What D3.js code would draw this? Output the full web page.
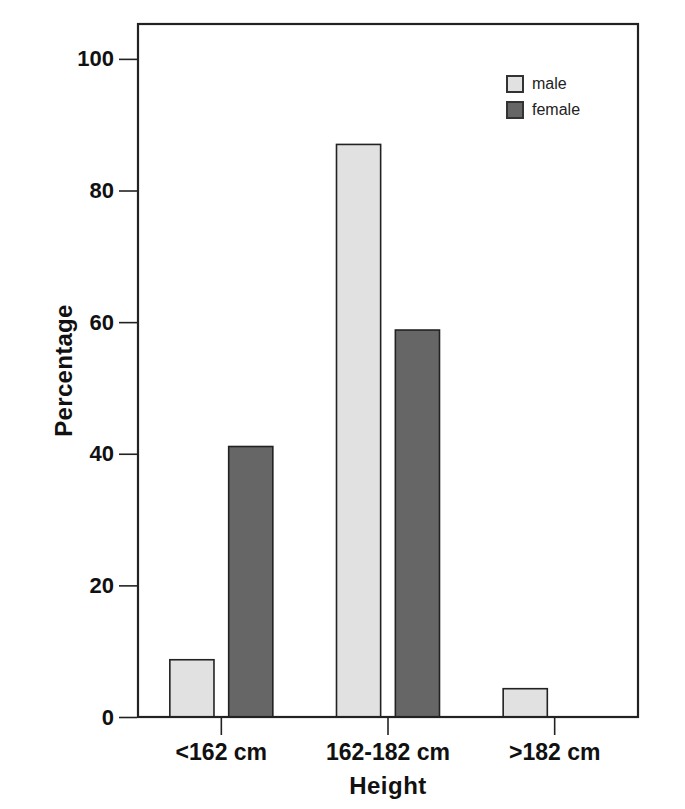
<!DOCTYPE html>
<html>
<head>
<meta charset="utf-8">
<script src="https://cdn.jsdelivr.net/npm/d3@7"></script>
<style>
  body { margin: 0; background: #fff; }
  svg { font-family: "Liberation Sans", Arial, sans-serif; }
</style>
</head>
<body>
<svg width="685" height="809"></svg>
<script>
const CATEGORIES = ["<162 cm", "162-182 cm", ">182 cm"];
const SERIES = ["male", "female"];
const MALE = [8.7, 87.0, 4.3];
const FEMALE = [41.1, 58.8, 0];
const Y_TICKS = [0, 20, 40, 60, 80, 100];

const COLORS = { male: "#e1e1e1", female: "#666666" };

const margin = { top: 24, left: 138, right: 47, bottom: 92 };
const width = 685 - margin.left - margin.right;
const height = 809 - margin.top - margin.bottom;

const data = CATEGORIES.map((c, i) => ({ category: c, male: MALE[i], female: FEMALE[i] }));

const svg = d3.select("svg");
const g = svg.append("g").attr("transform", `translate(${margin.left},${margin.top})`);

const xScale = d3.scaleBand()
    .domain(CATEGORIES)
    .range([0, width]);

const inner = d3.scaleBand()
    .domain(SERIES)
    .range([xScale.bandwidth() / 2 - 51.5, xScale.bandwidth() / 2 + 51.5])
    .paddingInner(0.25);

const yScale = d3.scaleLinear()
    .domain([0, 105.3])
    .range([height, 0]);

// bars
g.selectAll(".group")
    .data(data)
    .enter()
    .append("g")
    .attr("transform", d => `translate(${xScale(d.category)},0)`)
    .selectAll("rect")
    .data(d => SERIES.map(s => ({ key: s, value: d[s] })).filter(d => d.value > 0))
    .enter()
    .append("rect")
    .attr("x", d => inner(d.key))
    .attr("width", inner.bandwidth())
    .attr("y", d => yScale(d.value))
    .attr("height", d => height - yScale(d.value))
    .attr("fill", d => COLORS[d.key])
    .attr("stroke", "#222")
    .attr("stroke-width", 1.6);

// frame
g.append("rect")
    .attr("width", width)
    .attr("height", height)
    .attr("fill", "none")
    .attr("stroke", "#222")
    .attr("stroke-width", 2.2);

// y axis
const yAxis = g.append("g")
    .call(d3.axisLeft(yScale).tickValues(Y_TICKS).tickSize(19).tickPadding(5));
yAxis.select(".domain").remove();
yAxis.selectAll(".tick line").attr("stroke", "#222").attr("stroke-width", 1.6)
    .attr("x2", -19).attr("x1", -1);
yAxis.selectAll(".tick text")
    .attr("x", -24)
    .style("font-size", "22px")
    .style("font-weight", "bold")
    .attr("fill", "#111");

// x axis
const xAxis = g.append("g")
    .attr("transform", `translate(0,${height})`)
    .call(d3.axisBottom(xScale).tickSize(18).tickPadding(9));
xAxis.select(".domain").remove();
xAxis.selectAll(".tick line").attr("stroke", "#222").attr("stroke-width", 1.6);
xAxis.selectAll(".tick text")
    .style("font-size", "23px")
    .style("font-weight", "bold")
    .attr("fill", "#111");

// axis titles
svg.append("text")
    .attr("x", margin.left + width / 2)
    .attr("y", 794)
    .attr("text-anchor", "middle")
    .style("font-size", "24px")
    .style("font-weight", "bold")
    .style("letter-spacing", "0.5px")
    .attr("fill", "#111")
    .text("Height");

svg.append("text")
    .attr("transform", `translate(72,${margin.top + height / 2}) rotate(-90)`)
    .attr("text-anchor", "middle")
    .style("font-size", "24px")
    .style("font-weight", "bold")
    .style("letter-spacing", "0.3px")
    .attr("fill", "#111")
    .text("Percentage");

// legend
const legend = svg.append("g").attr("transform", "translate(507,76)");
SERIES.forEach((s, i) => {
    const row = legend.append("g").attr("transform", `translate(0,${i * 26})`);
    row.append("rect")
        .attr("width", 16).attr("height", 16)
        .attr("fill", COLORS[s])
        .attr("stroke", "#333")
        .attr("stroke-width", 2);
    row.append("text")
        .attr("x", 25).attr("y", 13)
        .style("font-size", "16px")
        .attr("fill", "#222")
        .text(s);
});
</script>
</body>
</html>
